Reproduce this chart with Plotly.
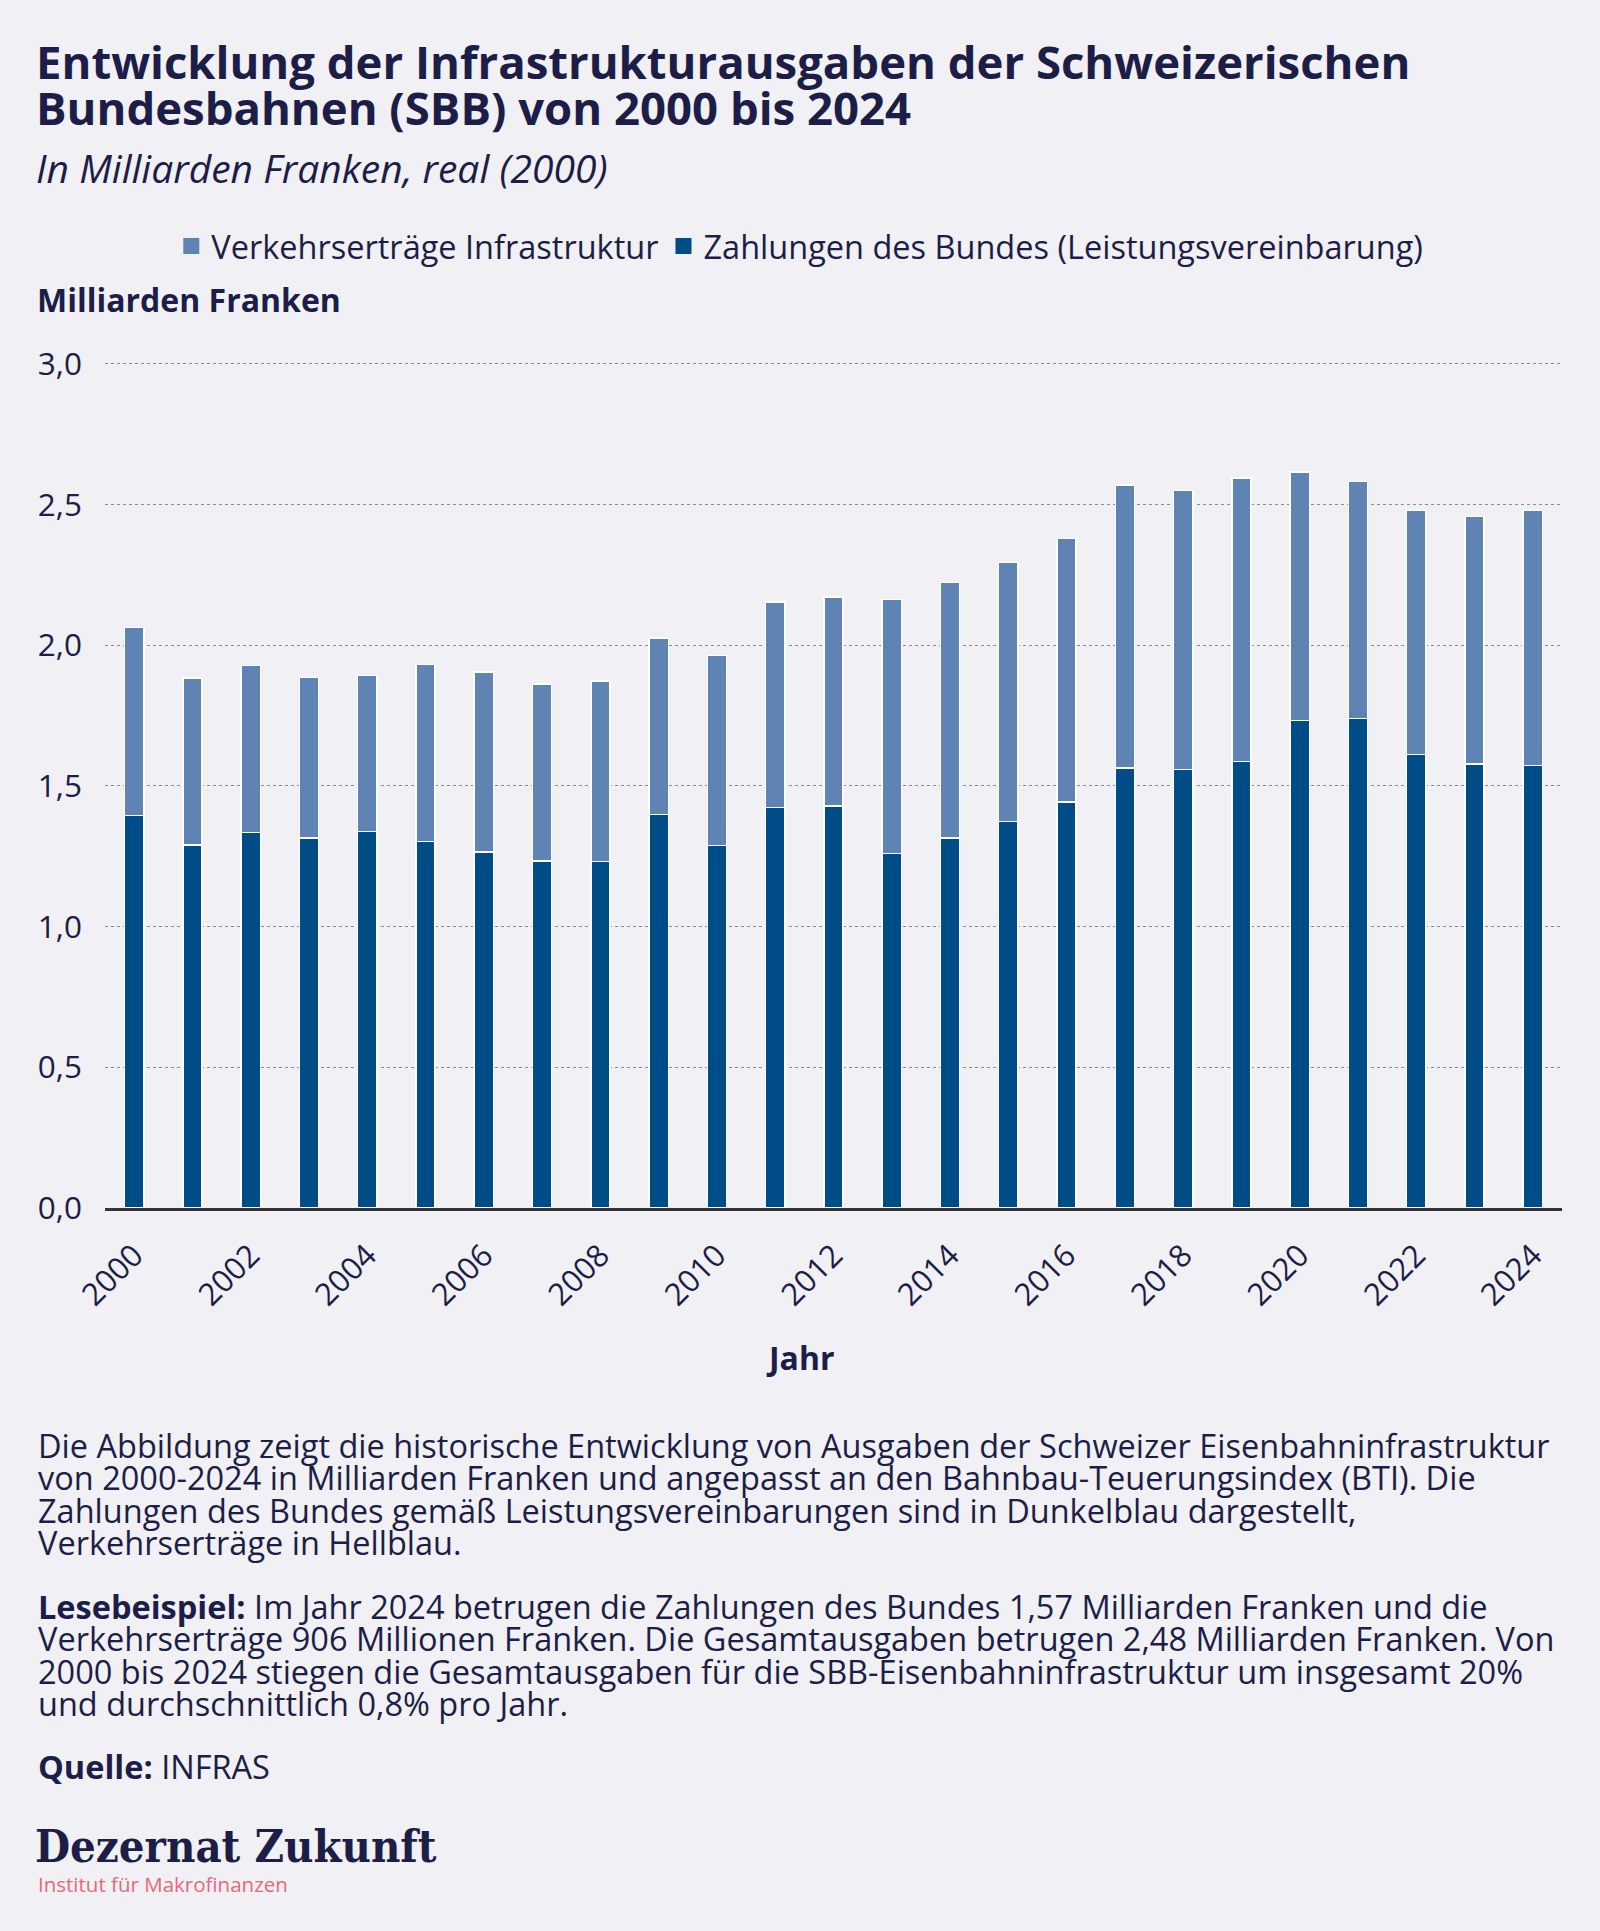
import plotly.graph_objects as go

years = list(range(2000, 2025))
zahlungen = [1.394, 1.290, 1.334, 1.315, 1.338, 1.303, 1.266, 1.234, 1.231, 1.399,
             1.289, 1.424, 1.429, 1.260, 1.315, 1.374, 1.442, 1.564, 1.559, 1.586,
             1.733, 1.740, 1.612, 1.577, 1.573]
verkehr = [0.669, 0.593, 0.594, 0.570, 0.555, 0.628, 0.638, 0.628, 0.641, 0.626,
           0.674, 0.730, 0.743, 0.902, 0.907, 0.920, 0.938, 1.006, 0.991, 1.008,
           0.882, 0.841, 0.867, 0.880, 0.906]
x_ticks = list(range(2000, 2025, 2))
y_ticks = [0, 0.5, 1.0, 1.5, 2.0, 2.5, 3.0]

NAME_Z = "Zahlungen des Bundes (Leistungsvereinbarung)"
NAME_V = "Verkehrserträge Infrastruktur"

DARK = "#004C87"
LIGHT = "#5F84B3"
BG = "#F0F0F5"
TXT = "#1C1E47"
FONT = "Open Sans"

W, H = 1600, 1931
YMAX = 3.01
Y0_PX, Y3_PX = 1208.3, 364.3
PL, PR = 105.3, 1562.1
PB = Y0_PX
PT = Y0_PX - (Y0_PX - Y3_PX) * YMAX / 3.0


def px_x(X):
    return (X - PL) / (PR - PL)


def px_y(Y):
    return (PB - Y) / (PB - PT)


fig = go.Figure()
fig.add_trace(go.Bar(x=years, y=zahlungen, name=NAME_Z, showlegend=False,
                     marker=dict(color=DARK, line=dict(color="white", width=1.5)), width=0.33))
fig.add_trace(go.Bar(x=years, y=verkehr, name=NAME_V, showlegend=False,
                     marker=dict(color=LIGHT, line=dict(color="white", width=1.5)), width=0.33))
# legend entries (square swatches)
fig.add_trace(go.Scatter(x=[None], y=[None], mode="markers", name=NAME_V,
                         marker=dict(symbol="square", size=20, color=LIGHT)))
fig.add_trace(go.Scatter(x=[None], y=[None], mode="markers", name=NAME_Z,
                         marker=dict(symbol="square", size=20, color=DARK)))

annotations = []


def txt(text, X, Y, size, color=TXT, family=FONT):
    annotations.append(dict(text=text, x=px_x(X), y=px_y(Y), xref="paper", yref="paper",
                            xanchor="left", yanchor="middle", showarrow=False,
                            font=dict(family=family, size=size, color=color)))


txt("<b>Entwicklung der Infrastrukturausgaben der Schweizerischen</b>", 34, 62, 45.5)
txt("<b>Bundesbahnen (SBB) von 2000 bis 2024</b>", 34, 108, 45.5)
txt("<i>In Milliarden Franken, real (2000)</i>", 34, 168, 39)
txt("<b>Milliarden Franken</b>", 35, 300, 32)

body = [
    "Die Abbildung zeigt die historische Entwicklung von Ausgaben der Schweizer Eisenbahninfrastruktur",
    "von 2000-2024 in Milliarden Franken und angepasst an den Bahnbau-Teuerungsindex (BTI). Die",
    "Zahlungen des Bundes gemäß Leistungsvereinbarungen sind in Dunkelblau dargestellt,",
    "Verkehrserträge in Hellblau.",
]
for i, line in enumerate(body):
    txt(line, 36, 1446 + i * 32.2, 32.5)

lese = [
    "<b>Lesebeispiel:</b> Im Jahr 2024 betrugen die Zahlungen des Bundes 1,57 Milliarden Franken und die",
    "Verkehrserträge 906 Millionen Franken. Die Gesamtausgaben betrugen 2,48 Milliarden Franken. Von",
    "2000 bis 2024 stiegen die Gesamtausgaben für die SBB-Eisenbahninfrastruktur um insgesamt 20%",
    "und durchschnittlich 0,8% pro Jahr.",
]
for i, line in enumerate(lese):
    txt(line, 36, 1607 + i * 32.2, 32.5)

txt("<b>Quelle:</b> INFRAS", 36, 1767, 32.5)
txt("<b>Dezernat Zukunft</b>", 33, 1847, 45, family="DejaVu Serif Condensed, DejaVu Serif")
txt("Institut für Makrofinanzen", 36, 1884, 20.5, color="#E8677A")

annotations.append(dict(text="<b>Jahr</b>", x=px_x(800), y=px_y(1358), xref="paper", yref="paper",
                        xanchor="center", yanchor="middle", showarrow=False,
                        font=dict(family=FONT, size=32, color=TXT)))

fig.update_layout(
    width=W, height=H,
    paper_bgcolor=BG, plot_bgcolor=BG,
    margin=dict(l=PL, r=W - PR, t=PT, b=H - PB, autoexpand=False),
    barmode="stack",
    separators=",.",
    font=dict(family=FONT, color=TXT),
    showlegend=True,
    legend=dict(orientation="h", x=px_x(800), y=px_y(247), xanchor="center", yanchor="middle",
                traceorder="normal", font=dict(family=FONT, size=32.5, color=TXT),
                bgcolor="rgba(0,0,0,0)", itemwidth=30),
    annotations=annotations,
    xaxis=dict(range=[1999.5, 2024.5], tickvals=x_ticks, ticktext=[str(v) for v in x_ticks],
               tickangle=-45, tickfont=dict(family=FONT, size=31, color=TXT),
               showgrid=False, showline=True, linecolor="#333333", linewidth=2.5,
               ticks="", zeroline=False, ticklabelstandoff=14),
    yaxis=dict(range=[0, YMAX], tickvals=y_ticks, tickformat=".1f",
               tickfont=dict(family=FONT, size=31.5, color=TXT),
               showgrid=True, gridcolor="#8A8AA8", griddash="dot", gridwidth=1,
               zeroline=False, showline=False, ticks="", ticklabelstandoff=22),
)

fig.write_html("out.html", config={"displayModeBar": False},
               post_script="document.body.style.margin='0px';document.body.style.backgroundColor='#F0F0F5';")
